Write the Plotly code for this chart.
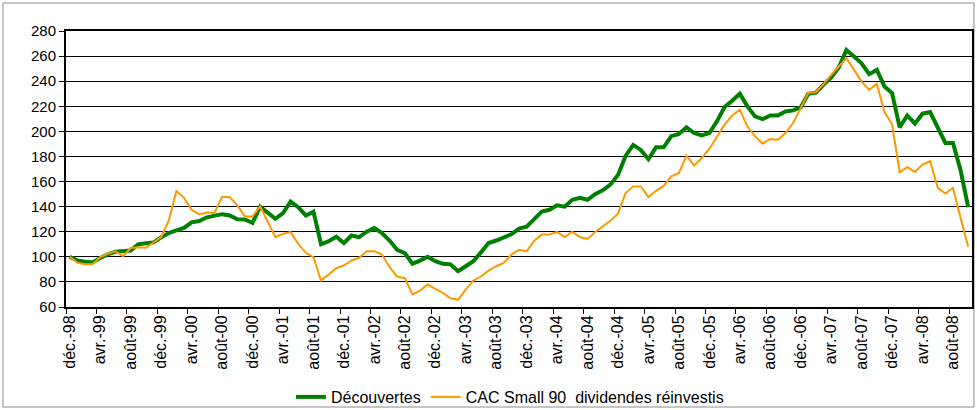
import plotly.graph_objects as go

# Monthly index values, Dec-1998 .. Oct-2008 (119 months)
decouvertes = [
    100, 97, 96, 95.5, 99, 102, 104, 104.5, 105, 110, 110.5, 111.5, 115.5, 119, 121, 123,
    127.5, 128.5, 131.5, 133, 134, 133, 130, 129.8, 127, 140, 135, 130.3, 134.8, 144, 139.6, 133,
    136, 110, 112.5, 116, 111, 117, 115.7, 120, 123, 119, 113, 105.5, 103, 94.5, 97, 100,
    96.5, 94.5, 94, 88.5, 92.5, 96.5, 103.5, 111, 113, 115.5, 118, 122.5, 124, 130, 136, 137.5,
    141, 140, 145.5, 147, 145.5, 150, 153, 157.5, 165.3, 180.4, 189.2, 185.2, 177.8, 187.3, 187.3, 196.2,
    197.9, 203.2, 198.7, 196.8, 198.7, 208, 219.4, 224.4, 230, 219.9, 211.9, 209.8, 212.7, 212.7, 215.9, 216.7,
    219.1, 230, 230.8, 237.3, 242.9, 250.9, 264.9, 259.6, 254.3, 245.6, 249, 235.8, 230.5, 203.2, 212.7, 206.1,
    214.1, 215.4, 202.7, 190.8, 190.8, 169, 139.6,
]
cac_small90 = [
    100, 95.2, 94, 94, 99.7, 102.4, 104.3, 100.5, 107, 107.7, 107.2, 111.7, 115.7, 129, 152.4, 147,
    137.5, 133.8, 135.4, 135, 147.6, 147.6, 141, 132.2, 132.2, 140.2, 127.7, 115.7, 118.4, 119.7, 110.4, 103.2,
    99.7, 81.1, 85.9, 91, 93.1, 97.1, 99.2, 104.4, 104.5, 101.8, 91.7, 84.3, 83, 70, 73.1, 77.9,
    74.4, 71.3, 67, 65.7, 73.9, 81.1, 84.3, 89, 92.5, 95.2, 101.8, 105.6, 104.4, 112.9, 117.7, 117.7,
    119.8, 115.8, 119.8, 115.8, 114.2, 119.8, 124.3, 128.8, 134.4, 150.8, 156.1, 156.1, 147.6, 152.6, 156.5, 164.2,
    166.9, 180.7, 172.8, 178.8, 186, 196, 205.3, 212.7, 217.2, 204, 196, 190.2, 193.9, 193.4, 198.7, 206.6,
    218.6, 230.5, 231.4, 237.6, 245, 251.7, 258.3, 249, 239.7, 233.1, 237.9, 215.4, 205.8, 167.4, 171.4, 167.7,
    173.5, 176.2, 155, 150.5, 155, 131.2, 108.1,
]

month_names = ["janv.", "févr.", "mars", "avr.", "mai", "juin", "juil.", "août", "sept.", "oct.", "nov.", "déc."]
months = []
for k in range(len(decouvertes)):
    m = (11 + k) % 12
    y = (98 + (11 + k) // 12) % 100
    months.append(f"{month_names[m]}-{y:02d}")

tick_idx = list(range(0, len(months), 4))
tick_labels = [months[i] for i in tick_idx]

x = [i + 0.5 for i in range(len(months))]

fig = go.Figure()
fig.add_trace(go.Scatter(
    x=x, y=decouvertes, mode="lines", name="Découvertes",
    line=dict(color="#008000", width=4), customdata=months,
    hovertemplate="%{customdata}: %{y}<extra>Découvertes</extra>",
))
fig.add_trace(go.Scatter(
    x=x, y=cac_small90, mode="lines", name="CAC Small 90  dividendes réinvestis",
    line=dict(color="#FF9900", width=2), customdata=months,
    hovertemplate="%{customdata}: %{y}<extra>CAC Small 90</extra>",
))

font_family = "Liberation Sans, Arial, sans-serif"

fig.update_layout(
    width=977, height=410,
    margin=dict(l=66, r=5, t=31, b=103, autoexpand=False),
    paper_bgcolor="white", plot_bgcolor="white",
    font=dict(family=font_family, size=14, color="black"),
    showlegend=True,
    legend=dict(orientation="h", x=0.49, xanchor="center", y=(307 - 397) / 276, yanchor="middle",
                font=dict(size=16), itemwidth=30, bgcolor="rgba(0,0,0,0)"),
    xaxis=dict(
        range=[0, len(months)], automargin=False,
        tickmode="array", tickvals=[i + 0.5 for i in tick_idx], ticktext=tick_labels,
        tickangle=-90, ticks="", showgrid=False, zeroline=False,
        showline=True, linecolor="black", linewidth=2, mirror=True,
        tickfont=dict(size=16),
        minor=dict(ticks="outside", tickmode="linear", tick0=0, dtick=4, ticklen=5,
                   tickcolor="black", tickwidth=1, showgrid=False),
    ),
    yaxis=dict(
        range=[60, 280], dtick=20, tick0=60, automargin=False,
        ticks="outside", ticklen=5, tickcolor="black",
        showgrid=True, gridcolor="black", gridwidth=1, zeroline=False,
        showline=True, linecolor="black", linewidth=2, mirror=True,
        tickfont=dict(size=15),
    ),
    shapes=[dict(type="rect", xref="paper", yref="paper",
                 x0=-63 / 906, x1=(974 - 66) / 906, y0=(307 - 407) / 276, y1=(307 - 3) / 276,
                 line=dict(color="#8c8c8c", width=1), fillcolor="rgba(0,0,0,0)", layer="below")],
)

fig.write_html(
    "out.html",
    config={"displayModeBar": False},
    post_script="document.body.style.margin='0';document.body.style.overflow='hidden';",
)
